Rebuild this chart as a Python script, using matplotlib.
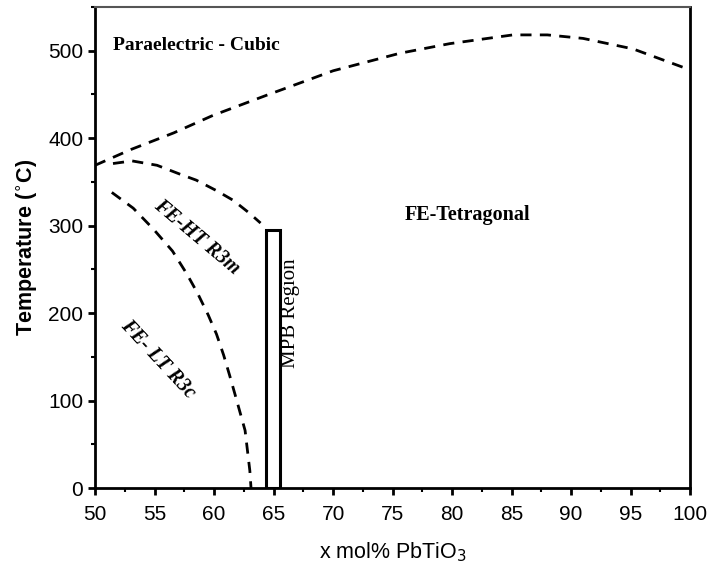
import matplotlib
matplotlib.use("Agg")
import matplotlib.pyplot as plt
from matplotlib.ticker import MultipleLocator
from matplotlib.patches import Rectangle

# Data
tc_x = [50, 53, 56.6, 59.9, 64.4, 70, 75.6, 79.8, 85.1, 88, 91, 95.2, 100]
tc_y = [369, 387, 406, 426, 449, 477, 497, 508, 518, 518, 514, 502, 478]

ht_x = [51.5, 53.1, 55.2, 57.1, 58.5, 60.2, 61.6, 62.9, 63.9]
ht_y = [371, 374, 369, 359, 352, 340, 329, 315, 303]

lt_x = [51.4, 53.2, 54.9, 56.5, 57.7, 58.6, 59.5, 60.2, 60.8, 61.3, 61.8, 62.6, 63.0, 63.1]
lt_y = [338, 320, 296, 271, 245, 223, 198, 176, 152, 129, 105, 66, 20, 0]

mpb_x = [64.4, 65.5]
mpb_top = 295

labels = ["Paraelectric - Cubic", "FE-Tetragonal", "FE-HT R3m", "FE- LT R3c", "MPB Region"]

fig = plt.figure(figsize=(7.1, 5.75), dpi=100)
ax = fig.add_axes([0.134, 0.151, 0.838, 0.837])

ls = (0, (4, 3))
ax.plot(tc_x, tc_y, color="black", lw=2, linestyle=ls)
ax.plot(ht_x, ht_y, color="black", lw=2, linestyle=ls)
ax.plot(lt_x, lt_y, color="black", lw=2, linestyle=ls)
ax.add_patch(Rectangle((mpb_x[0], 0), mpb_x[1] - mpb_x[0], mpb_top,
                       fill=False, edgecolor="black", lw=2.2))

ax.set_xlim(50, 100)
ax.set_ylim(0, 550)
ax.xaxis.set_major_locator(MultipleLocator(5))
ax.xaxis.set_minor_locator(MultipleLocator(2.5))
ax.yaxis.set_major_locator(MultipleLocator(100))
ax.yaxis.set_minor_locator(MultipleLocator(50))
ax.tick_params(which="major", length=5, width=2, direction="out",
               labelsize=15)
ax.tick_params(axis="x", which="major", pad=7)
ax.tick_params(which="minor", length=3, width=1.5, direction="out")
for lab in ax.get_xticklabels() + ax.get_yticklabels():
    lab.set_fontfamily("Liberation Sans")

for side in ["left", "bottom", "right"]:
    ax.spines[side].set_linewidth(2)
ax.spines["top"].set_linewidth(1.5)
ax.spines["top"].set_color("#555555")

ax.set_xlabel("x mol% PbTiO$_3$", fontsize=15.5, family="Liberation Sans", labelpad=12)
ax.set_ylabel("Temperature ($^{\\circ}$C)", fontsize=15.5, family="Liberation Sans",
              fontweight="bold", labelpad=6)

serif = "Liberation Serif"
ax.text(51.5, 506, labels[0], fontsize=14, family=serif, fontweight="bold",
        va="center", ha="left")
ax.text(81.3, 312, labels[1], fontsize=14.5, family=serif, fontweight="bold",
        va="center", ha="center")
ax.text(58.5, 287, labels[2], fontsize=14.5, family=serif, fontweight="bold",
        style="italic", rotation=-40, va="center", ha="center",
        rotation_mode="anchor")
ax.text(55.3, 148, labels[3], fontsize=14.5, family=serif, fontweight="bold",
        style="italic", rotation=-47, va="center", ha="center",
        rotation_mode="anchor")
ax.text(66.4, 200, labels[4], fontsize=15, family=serif,
        rotation=90, va="center", ha="center")

fig.savefig("out.png", dpi=100)
